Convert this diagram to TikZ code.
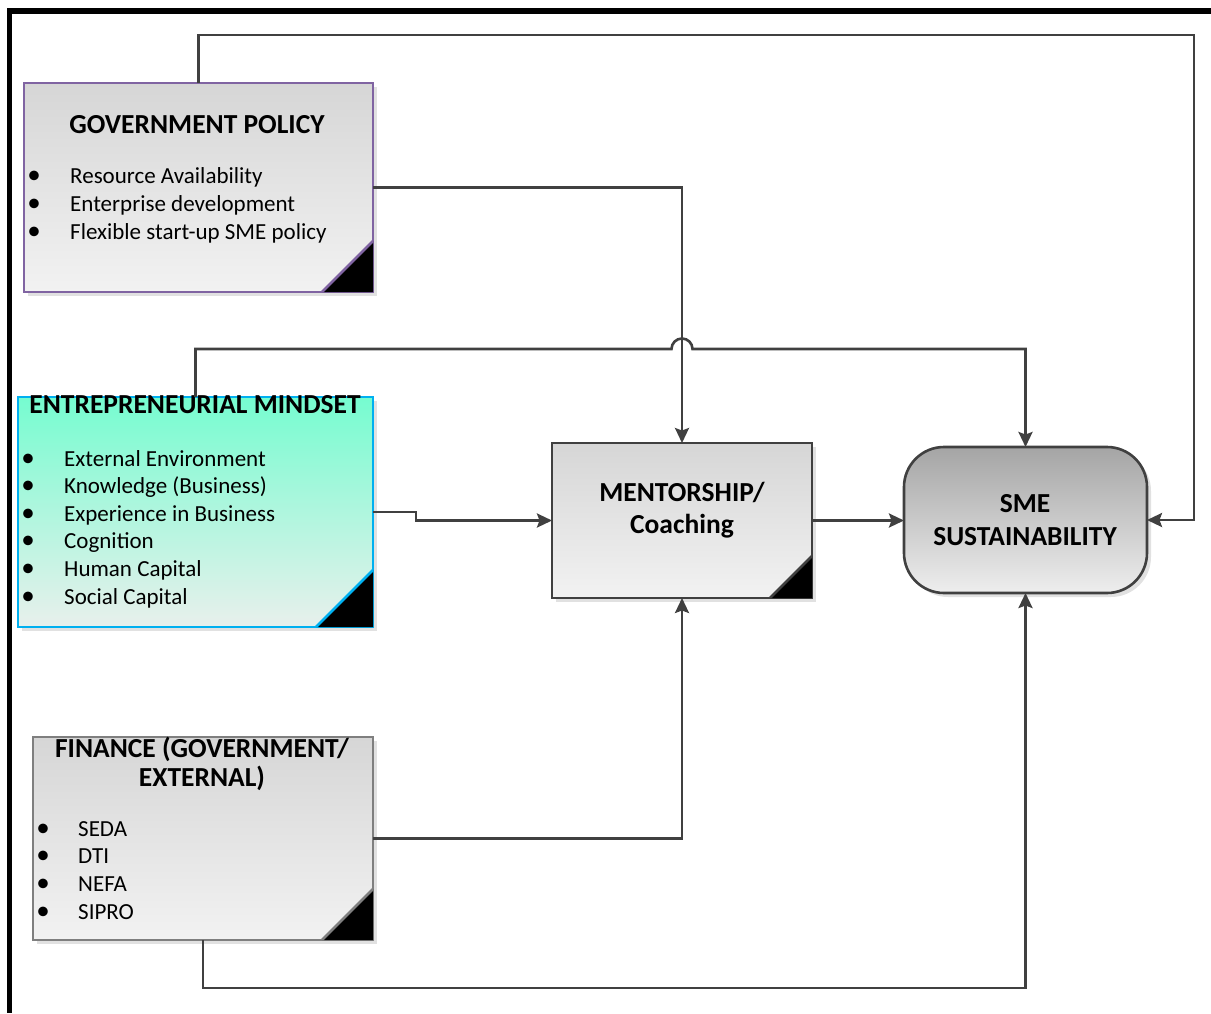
\documentclass[tikz,border=0pt]{standalone}
\usepackage{fontspec}
\setmainfont{Carlito}
\usetikzlibrary{arrows.meta,shadows}
\definecolor{conncol}{RGB}{64,64,64}
\definecolor{govcol}{RGB}{128,100,162}
\definecolor{entcol}{RGB}{0,176,240}
\definecolor{fincol}{RGB}{127,127,127}
\definecolor{greytop}{RGB}{214,214,214}
\definecolor{greybot}{RGB}{242,242,242}
\definecolor{enttop}{RGB}{118,252,208}
\definecolor{entbot}{RGB}{232,240,236}
\definecolor{smetop}{RGB}{165,165,165}
\definecolor{smebot}{RGB}{238,238,238}
\definecolor{shadowcol}{RGB}{225,225,225}
\begin{document}
\begin{tikzpicture}[x=1pt,y=-1pt,
  box/.style={rectangle, inner sep=0, outer sep=0, line width=2.6pt,
    drop shadow={shadow xshift=4pt, shadow yshift=-4pt, fill=shadowcol, opacity=1}},
  conn/.style={draw=conncol, line width=2.6pt, -{Stealth[length=15pt,width=14pt,inset=2.5pt]}},
  ttl/.style={font=\fontsize{27.5}{32}\selectfont\bfseries, inner sep=0, anchor=base},
  bul/.style={font=\fontsize{23}{26}\selectfont, inner sep=0, anchor=base west},
  dot/.style={font=\fontsize{27}{27}\selectfont, inner sep=0, anchor=base}]
\useasboundingbox (0,0) rectangle (1211,1013);

% frame
\draw[line width=5.7pt] (7,11.2) -- (1211,11.2);
\draw[line width=5pt] (9.5,8.4) -- (9.5,1013);

% boxes
\node[box, draw=govcol, top color=greytop, bottom color=greybot,
  minimum width=349, minimum height=209] (gov) at (198.5,187.5) {};
\node[box, draw=entcol, top color=enttop, bottom color=entbot,
  minimum width=355, minimum height=230] (ent) at (195.5,512) {};
\node[box, draw=fincol, top color=greytop, bottom color=greybot,
  minimum width=340, minimum height=203] (fin) at (203,838.5) {};
\node[box, draw=conncol, top color=greytop, bottom color=greybot,
  minimum width=260, minimum height=155] (men) at (682,520.5) {};
\node[box, draw=conncol, rounded corners=40pt, top color=smetop, bottom color=smebot,
  minimum width=243, minimum height=146] (sme) at (1025.5,520) {};

% folded corners
\fill[black] (gov.south east) -- ++(-51,0) -- ++(51,-51) -- cycle;
\draw[govcol, line width=2.6pt] (gov.south east) ++(-51,0) -- ++(51,-51);
\fill[black] (ent.south east) -- ++(-57,0) -- ++(57,-57) -- cycle;
\draw[entcol, line width=2.6pt] (ent.south east) ++(-57,0) -- ++(57,-57);
\fill[black] (fin.south east) -- ++(-51,0) -- ++(51,-51) -- cycle;
\draw[fincol, line width=2.6pt] (fin.south east) ++(-51,0) -- ++(51,-51);
\fill[black] (men.south east) -- ++(-42,0) -- ++(42,-42) -- cycle;
\draw[conncol, line width=2.6pt] (men.south east) ++(-42,0) -- ++(42,-42);

% texts
\node[ttl] (govT) at (197,133) {GOVERNMENT POLICY};
\foreach \t [count=\i] in {Resource Availability, Enterprise development, Flexible start-up SME policy} {
  \node[bul] (govB\i) at (70,{183+28*(\i-1)}) {\t};
  \node[dot] (govD\i) at (34,{183+28*(\i-1)}) {•};
}
\node[ttl] (entT) at (195,413) {ENTREPRENEURIAL MINDSET};
\foreach \t [count=\i] in {External Environment, {Knowledge (Business)}, Experience in Business, Cognition, Human Capital, Social Capital} {
  \node[bul] (entB\i) at (64,{466+27.6*(\i-1)}) {\t};
  \node[dot] (entD\i) at (28,{466+27.6*(\i-1)}) {•};
}
\node[ttl] (finT1) at (202,757) {FINANCE (GOVERNMENT/};
\node[ttl] (finT2) at (202,786) {EXTERNAL)};
\foreach \t [count=\i] in {SEDA, DTI, NEFA, SIPRO} {
  \node[bul] (finB\i) at (78,{836+27.7*(\i-1)}) {\t};
  \node[dot] (finD\i) at (43,{836+27.7*(\i-1)}) {•};
}
\node[ttl] (menT1) at (682,501) {MENTORSHIP/};
\node[ttl] (menT2) at (682,533) {Coaching};
\node[ttl] (smeT1) at (1025,512) {SME};
\node[ttl] (smeT2) at (1025,545) {SUSTAINABILITY};

% connector helper points
\coordinate (cTR) at (1194,35);
\coordinate (hopL) at (671.5,349);
\coordinate (cE1) at (416,512);
\coordinate (cB) at (600,988);

% connectors
\draw[conn] (gov.north) |- (cTR) |- (sme.east);
\draw[conn] (gov.east) -| (men.north);
\draw[conn] (ent.north) |- (hopL) arc[start angle=180, end angle=0, radius=10.5pt] -| (sme.north);
\draw[conn] (ent.east) -- (cE1) |- (men.west);
\draw[conn] (men.east) -- (men.east -| sme.west);
\draw[conn] (fin.east) -| (men.south);
\draw[conn] (fin.south) |- (cB) -| (sme.south);
\end{tikzpicture}
\end{document}
